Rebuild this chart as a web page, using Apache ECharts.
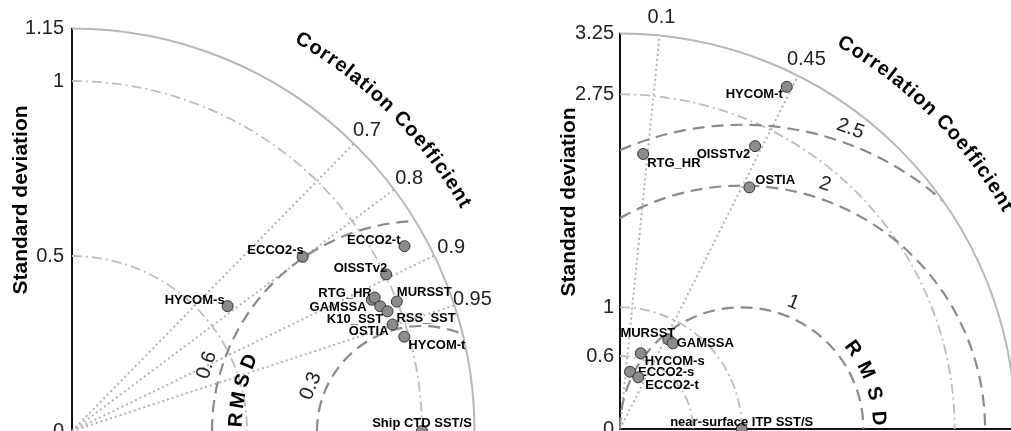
<!DOCTYPE html>
<html>
<head>
<meta charset="utf-8">
<script src="https://cdn.jsdelivr.net/npm/echarts@6/dist/echarts.min.js"></script>
<style>
  html, body { margin: 0; padding: 0; background: #ffffff; }
  #chart { width: 1011px; height: 431px; }
</style>
</head>
<body>
<div id="chart"></div>
<script>
// ---- Ship CTD SST/S panel (normalised statistics) ----
const shipNames = ['ECCO2-t', 'ECCO2-s', 'OISSTv2', 'RTG_HR', 'GAMSSA', 'K10_SST', 'RSS_SST', 'OSTIA', 'MURSST', 'HYCOM-t', 'HYCOM-s'];
const shipStd   = [1.087, 0.826, 1.003, 0.935, 0.945, 0.950, 0.964, 0.965, 0.999, 0.987, 0.570];
const shipCorr  = [0.874, 0.798, 0.895, 0.916, 0.915, 0.927, 0.935, 0.949, 0.929, 0.962, 0.780];
const shipStdTicks  = [0, 0.5, 1, 1.15];
const shipStdArcs   = [0.5, 1];
const shipCorrTicks = [0.7, 0.8, 0.9, 0.95];
const shipRmsTicks  = [0.3, 0.6];
const shipRefStd = 1;
const shipRefName = 'Ship CTD SST/S';

// ---- near-surface ITP SST/S panel ----
const itpNames = ['HYCOM-t', 'OISSTv2', 'OSTIA', 'RTG_HR', 'MURSST', 'GAMSSA', 'HYCOM-s', 'ECCO2-s', 'ECCO2-t'];
const itpStd   = [3.128, 2.576, 2.252, 2.268, 0.837, 0.827, 0.645, 0.478, 0.451];
const itpCorr  = [0.438, 0.431, 0.472, 0.084, 0.474, 0.524, 0.264, 0.172, 0.334];
const itpStdTicks  = [0, 0.6, 1, 2.75, 3.25];
const itpStdArcs   = [0.6, 1, 2.75];
const itpCorrTicks = [0.1, 0.45];
const itpRmsTicks  = [1, 2, 2.5];
const itpRefStd = 1;
const itpRefName = 'near-surface ITP SST/S';

// label placement beside each marker: [align, dx, dy] in pixels
const shipLabelPlace = {
  'ECCO2-t': ['right', -4, -6], 'ECCO2-s': ['right', 1, -6], 'OISSTv2': ['right', 1, -6],
  'HYCOM-s': ['right', -3, -6], 'RTG_HR': ['right', 0, -6], 'GAMSSA': ['right', -8, 10],
  'K10_SST': ['right', 3, 13], 'OSTIA': ['right', -4, 7], 'MURSST': ['left', 0, -9],
  'RSS_SST': ['left', 9, 7], 'HYCOM-t': ['left', 4, 9]
};
const itpLabelPlace = {
  'HYCOM-t': ['right', -4, 8], 'OISSTv2': ['right', -5, 8], 'RTG_HR': ['left', 4, 9],
  'OSTIA': ['left', 6, -7], 'MURSST': ['right', 7, -6], 'GAMSSA': ['left', 4, 0],
  'HYCOM-s': ['left', 4, 8], 'ECCO2-s': ['left', 8, 1], 'ECCO2-t': ['left', 7, 8]
};

const FONT = '"Liberation Sans", Arial, Helvetica, sans-serif';
const measureCtx = document.createElement('canvas').getContext('2d');
const D2R = Math.PI / 180;
const angleOf = c => Math.acos(c) / D2R;

const panels = [
  {
    grid: { left: 72, top: 28.5, width: 402.5, height: 402.5 },
    center: [72, 431], radius: 402.5,
    R: 1.15, refStd: shipRefStd, refName: shipRefName,
    names: shipNames, std: shipStd, corr: shipCorr,
    stdTicks: shipStdTicks, stdArcs: shipStdArcs, corrTicks: shipCorrTicks, rmsTicks: shipRmsTicks,
    rmsLabelDeg: [158, 163], rmsTitle: { r: 0.531, from: 176.6, to: 158.1 },
    place: shipLabelPlace, refLabelDy: -8, showXAxis: false, tickMargin: 8
  },
  {
    grid: { left: 620, top: 33.5, width: 395.5, height: 395.5 },
    center: [620, 429], radius: 395.5,
    R: 3.25, refStd: itpRefStd, refName: itpRefName,
    names: itpNames, std: itpStd, corr: itpCorr,
    stdTicks: itpStdTicks, stdArcs: itpStdArcs, corrTicks: itpCorrTicks, rmsTicks: itpRmsTicks,
    rmsLabelDeg: [67.8, 71.2, 70.1], rmsTitle: { r: 1.126, from: 35.9, to: 4.5 },
    place: itpLabelPlace, refLabelDy: -7, showXAxis: true, tickMargin: 6
  }
];

function textEl(x, y, str, opts) {
  return {
    type: 'text', x: x, y: y, rotation: opts.rotation || 0,
    style: {
      text: str, fill: opts.color || '#1a1a1a',
      fontSize: opts.size || 20, fontWeight: opts.weight || 'normal', fontFamily: FONT,
      align: opts.align || 'center', verticalAlign: 'middle'
    }
  };
}

// letters laid along a circle, running clockwise, tops facing outward
function arcLetters(cx, cy, r, midDeg, str, size, spacing) {
  measureCtx.font = 'bold ' + size + 'px ' + FONT;
  const chars = Array.from(str);
  const widths = chars.map(ch => measureCtx.measureText(ch).width);
  const total = widths.reduce((a, b) => a + b, 0) + spacing * (chars.length - 1);
  let s = -total / 2;
  const out = [];
  chars.forEach((ch, i) => {
    const c = s + widths[i] / 2;
    const th = midDeg * D2R - c / r;
    if (ch !== ' ') {
      out.push(textEl(cx + r * Math.cos(th), cy - r * Math.sin(th), ch,
        { size: size, weight: 'bold', rotation: th - Math.PI / 2, color: '#000' }));
    }
    s += widths[i] + spacing;
  });
  return out;
}

function decorations(p) {
  return function (params, api) {
    const O = api.coord([0, 0]);
    const k = api.size([1, 0])[0];
    const Rp = p.R * k;
    const kids = [];

    // standard deviation arcs (dash-dot)
    p.stdArcs.forEach(s => kids.push({
      type: 'arc',
      shape: { cx: O[0], cy: O[1], r: s * k, startAngle: -Math.PI / 2, endAngle: 0, clockwise: true },
      style: { fill: 'none', stroke: '#bdbdbd', lineWidth: 1.8, lineDash: [10, 4, 2, 4] }
    }));

    // correlation rays (dotted) and their labels
    p.corrTicks.forEach(c => {
      const sn = Math.sqrt(1 - c * c);
      const e = api.coord([p.R * c, p.R * sn]);
      kids.push({
        type: 'line', shape: { x1: O[0], y1: O[1], x2: e[0], y2: e[1] },
        style: { stroke: '#b3b3b3', lineWidth: 2, lineDash: [2, 3] }
      });
      const lr = Rp * 1.047;
      kids.push(textEl(O[0] + lr * c, O[1] - lr * sn, String(c), { size: 20, color: '#222' }));
    });

    // centred RMS difference arcs (dashed), kept inside the quadrant
    const C = api.coord([p.refStd, 0]);
    p.rmsTicks.forEach((rho, i) => {
      const c = p.refStd;
      const hi = Math.min(1, Math.max(-1, (p.R * p.R - c * c - rho * rho) / (2 * c * rho)));
      const lo = Math.max(-1, -c / rho);
      const f1 = Math.acos(hi), f2 = Math.acos(lo);
      kids.push({
        type: 'arc',
        shape: { cx: C[0], cy: C[1], r: rho * k, startAngle: -f2, endAngle: -f1, clockwise: true },
        style: { fill: 'none', stroke: '#8a8a8a', lineWidth: 2.2, lineDash: [12, 7] }
      });
      const a = p.rmsLabelDeg[i] * D2R;
      const lr = rho * k + 15;
      kids.push(textEl(C[0] + lr * Math.cos(a), C[1] - lr * Math.sin(a), String(rho),
        { size: 20, color: '#222', rotation: a - Math.PI / 2 }));
    });

    // outer boundary
    kids.push({
      type: 'arc',
      shape: { cx: O[0], cy: O[1], r: Rp, startAngle: -Math.PI / 2, endAngle: 0, clockwise: true },
      style: { fill: 'none', stroke: '#b8b8b8', lineWidth: 2 }
    });

    // "R M S D" along its arc
    const letters = ['R', 'M', 'S', 'D'];
    const tr = p.rmsTitle.r * k;
    letters.forEach((ch, i) => {
      const a = (p.rmsTitle.from + (p.rmsTitle.to - p.rmsTitle.from) * i / (letters.length - 1)) * D2R;
      kids.push(textEl(C[0] + tr * Math.cos(a), C[1] - tr * Math.sin(a), ch,
        { size: 20, weight: 'bold', color: '#000', rotation: a - Math.PI / 2 }));
    });

    // curved "Correlation Coefficient" title
    arcLetters(O[0], O[1], Rp * 1.127, 45, 'Correlation Coefficient', 20, 1.2)
      .forEach(el => kids.push(el));

    // vertical axis title
    kids.push(textEl(O[0] - 51, O[1] - Rp * 0.574, 'Standard deviation',
      { size: 21, weight: 'bold', color: '#000', rotation: Math.PI / 2 }));

    return { type: 'group', children: kids };
  };
}

// one marker + its name, placed through the polar coordinate system
function pointMarks(p) {
  const labels = [p.refName].concat(p.names);
  return function (params, api) {
    const pt = api.coord([api.value(0), api.value(1)]);
    const name = labels[params.dataIndex];
    const kids = [{
      type: 'circle', shape: { cx: pt[0], cy: pt[1], r: 5.5 },
      style: { fill: '#8c8c8c', stroke: '#333', lineWidth: 1 }
    }];
    if (params.dataIndex === 0) {
      kids.push(textEl(pt[0], pt[1] + p.refLabelDy, name, { size: 13, weight: 'bold', color: '#000' }));
    } else {
      const pl = p.place[name];
      kids.push(textEl(pt[0] + pl[1], pt[1] + pl[2], name,
        { size: 13, weight: 'bold', color: '#000', align: pl[0] }));
    }
    return { type: 'group', children: kids };
  };
}

const option = {
  animation: false,
  backgroundColor: '#ffffff',
  grid: panels.map(p => Object.assign({ containLabel: false, outerBoundsMode: 'none' }, p.grid)),
  xAxis: panels.map((p, i) => ({
    gridIndex: i, type: 'value', min: 0, max: p.R,
    axisLine: { show: p.showXAxis, onZero: false, lineStyle: { color: '#111', width: 2 } },
    axisTick: { show: false }, axisLabel: { show: false }, splitLine: { show: false }
  })),
  yAxis: panels.map((p, i) => ({
    gridIndex: i, type: 'value', min: 0, max: p.R,
    axisLine: { show: true, onZero: false, lineStyle: { color: '#111', width: 2 } },
    axisTick: { show: false },
    splitLine: { show: false },
    axisLabel: {
      show: true, customValues: p.stdTicks, margin: p.tickMargin,
      fontSize: 20, fontFamily: FONT, color: '#222',
      showMinLabel: true, showMaxLabel: true, hideOverlap: false,
      formatter: v => String(v)
    }
  })),
  polar: panels.map(p => ({ center: p.center, radius: p.radius })),
  angleAxis: panels.map((p, i) => ({
    polarIndex: i, type: 'value', min: 0, max: 360, startAngle: 0, clockwise: false, show: false
  })),
  radiusAxis: panels.map((p, i) => ({
    polarIndex: i, type: 'value', min: 0, max: p.R, show: false
  })),
  series: []
};

panels.forEach((p, i) => {
  option.series.push({
    type: 'custom', xAxisIndex: i, yAxisIndex: i, silent: true, clip: false, z: 1,
    data: [[0, 0]], renderItem: decorations(p)
  });
  option.series.push({
    type: 'custom', coordinateSystem: 'polar', polarIndex: i, z: 5, silent: true,
    data: [[p.refStd, 0]].concat(p.names.map((n, j) => [p.std[j], angleOf(p.corr[j])])),
    renderItem: pointMarks(p)
  });
});

const chart = echarts.init(document.getElementById('chart'));
chart.setOption(option);
</script>
</body>
</html>
